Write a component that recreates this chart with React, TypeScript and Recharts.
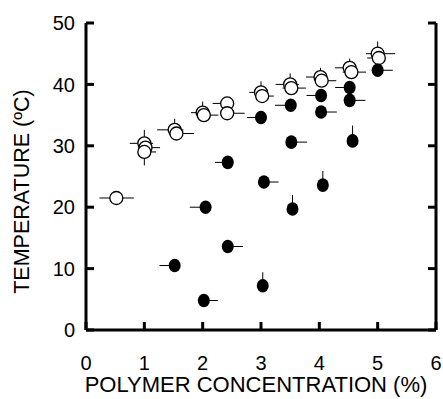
import { ScatterChart, Scatter, XAxis, YAxis, ErrorBar } from 'recharts'

// open circles
const openX = [0.52, 1.0, 1.02, 1.0, 1.52, 1.55, 2.0, 2.02, 2.42, 2.42, 3.0, 3.02, 3.5, 3.52, 4.02, 4.04, 4.52, 4.55, 5.0, 5.02]
const openY = [21.5, 30.4, 29.7, 29.0, 32.6, 32.0, 35.4, 35.0, 36.9, 35.3, 38.7, 38.1, 40.0, 39.4, 41.2, 40.6, 42.7, 42.0, 45.0, 44.3]
const openXLo = [0.29, 0.25, 0.1, 0, 0.3, 0, 0.2, 0, 0.25, 0, 0.2, 0, 0.25, 0.15, 0.25, 0, 0.25, 0.15, 0.2, 0.2]
const openXHi = [0.3, 0.15, 0.25, 0.2, 0.15, 0.3, 0, 0.25, 0, 0.3, 0.1, 0.2, 0.15, 0.25, 0, 0.25, 0.1, 0.25, 0.3, 0.1]
const openYLo = [0, 0, 0, 2.2, 0, 0, 0, 0, 0, 0, 0, 0, 0, 0, 0, 0.5, 0, 0, 0, 0.5]
const openYHi = [0, 2.2, 0, 0, 1.8, 0, 1.8, 0, 1, 0, 1.8, 0, 1.8, 0, 1.5, 0, 1.5, 0, 2, 0]

// filled circles
const filledX = [1.52, 2.02, 2.05, 2.43, 2.43, 3.03, 3.05, 3.0, 3.54, 3.52, 3.51, 4.06, 4.03, 4.03, 4.57, 4.52, 4.52, 5.0]
const filledY = [10.5, 4.8, 20.0, 13.6, 27.3, 7.2, 24.1, 34.6, 19.7, 30.6, 36.6, 23.6, 35.5, 38.2, 30.8, 37.4, 39.5, 42.3]
const filledXLo = [0.26, 0, 0.27, 0, 0.22, 0, 0, 0.24, 0, 0, 0.27, 0, 0, 0.25, 0, 0, 0.25, 0.1]
const filledXHi = [0, 0.24, 0, 0.26, 0, 0, 0.25, 0, 0, 0.27, 0, 0, 0.27, 0, 0, 0.27, 0, 0.26]
const filledYHi = [0, 0, 0, 0, 0, 2.2, 0, 0, 2.3, 0, 0, 2.3, 0, 0, 2.5, 0, 0, 0]

const xTicks = [0, 1, 2, 3, 4, 5, 6]
const yTicks = [0, 10, 20, 30, 40, 50]

const openData = openX.map((x, i) => ({
  x,
  y: openY[i],
  ex: [openXLo[i], openXHi[i]],
  ey: [openYLo[i], openYHi[i]],
}))

const filledData = filledX.map((x, i) => ({
  x,
  y: filledY[i],
  ex: [filledXLo[i], filledXHi[i]],
  ey: [0, filledYHi[i]],
}))

const font = '"Liberation Sans", Arial, sans-serif'
const axisStroke = { stroke: '#000', strokeWidth: 3 }
const TICK = 8
const XM = 26 // gap from bottom axis to label top
const YM = 11 // gap from left axis to label end

// inward ticks drawn together with the labels
const BottomTick = (props: any) => {
  const { x, y, payload } = props
  const axisY = y - XM
  return (
    <g>
      <line x1={x} x2={x} y1={axisY} y2={axisY - TICK} stroke="#000" strokeWidth={3} />
      <text x={x} y={y} dy="0.71em" textAnchor="middle" fontSize={20} fontFamily={font} fill="#000">
        {payload.value}
      </text>
    </g>
  )
}

const LeftTick = (props: any) => {
  const { x, y, payload } = props
  const axisX = x + YM
  return (
    <g>
      <line x1={axisX} x2={axisX + TICK} y1={y} y2={y} stroke="#000" strokeWidth={3} />
      <text x={x} y={y} dy="0.36em" textAnchor="end" fontSize={20} fontFamily={font} fill="#000">
        {payload.value}
      </text>
    </g>
  )
}

const TopTick = (props: any) => (
  <line x1={props.x} x2={props.x} y1={props.y} y2={props.y + TICK} stroke="#000" strokeWidth={3} />
)

const RightTick = (props: any) => (
  <line x1={props.x} x2={props.x - TICK} y1={props.y} y2={props.y} stroke="#000" strokeWidth={3} />
)

const OpenDot = (props: any) => (
  <circle cx={props.cx} cy={props.cy} r={6.5} fill="#fff" stroke="#000" strokeWidth={1.3} />
)

const FilledDot = (props: any) => (
  <ellipse cx={props.cx} cy={props.cy} rx={6} ry={6.8} fill="#000" />
)

const XTitle = (props: any) => {
  const vb = props.viewBox
  return (
    <text x={vb.x + vb.width / 2 - 5} y={vb.y + 62} textAnchor="middle" fontSize={22} fontFamily={font} fill="#000">
      POLYMER CONCENTRATION (%)
    </text>
  )
}

const YTitle = (props: any) => {
  const vb = props.viewBox
  const cx = 22
  const cy = vb.y + vb.height / 2 + 15
  return (
    <text x={cx} y={cy} transform={`rotate(-90 ${cx} ${cy})`} textAnchor="middle" dominantBaseline="central" fontSize={21.5} fontFamily={font} fill="#000">
      TEMPERATURE (ºC)
    </text>
  )
}

export default function App() {
  return (
    <div style={{ position: 'absolute', left: 0, top: 0, width: 443, height: 399, background: '#fff' }}>
      <ScatterChart width={443} height={399} margin={{ top: 23, right: 6, bottom: 0, left: 0 }}>
        <XAxis
          xAxisId="b"
          type="number"
          dataKey="x"
          domain={[0, 6]}
          ticks={xTicks}
          height={69}
          axisLine={axisStroke}
          tickLine={false}
          tickSize={0}
          tickMargin={XM}
          tick={<BottomTick />}
          allowDataOverflow
          label={<XTitle />}
        />
        <XAxis
          xAxisId="t"
          orientation="top"
          type="number"
          domain={[0, 6]}
          ticks={xTicks}
          height={0}
          axisLine={axisStroke}
          tickLine={false}
          tickSize={0}
          tickMargin={0}
          tick={<TopTick />}
          allowDataOverflow
        />
        <YAxis
          yAxisId="l"
          type="number"
          dataKey="y"
          domain={[0, 50]}
          ticks={yTicks}
          width={86}
          axisLine={axisStroke}
          tickLine={false}
          tickSize={0}
          tickMargin={YM}
          tick={<LeftTick />}
          allowDataOverflow
          label={<YTitle />}
        />
        <YAxis
          yAxisId="r"
          orientation="right"
          type="number"
          domain={[0, 50]}
          ticks={yTicks}
          width={1}
          axisLine={axisStroke}
          tickLine={false}
          tickSize={0}
          tickMargin={0}
          tick={<RightTick />}
          allowDataOverflow
        />
        <Scatter data={openData} xAxisId="b" yAxisId="l" shape={OpenDot} isAnimationActive={false}>
          <ErrorBar dataKey="ex" direction="x" width={0} stroke="#000" strokeWidth={1} />
          <ErrorBar dataKey="ey" direction="y" width={0} stroke="#000" strokeWidth={1} />
        </Scatter>
        <Scatter data={filledData} xAxisId="b" yAxisId="l" shape={FilledDot} isAnimationActive={false}>
          <ErrorBar dataKey="ex" direction="x" width={0} stroke="#000" strokeWidth={1} />
          <ErrorBar dataKey="ey" direction="y" width={0} stroke="#000" strokeWidth={1} />
        </Scatter>
      </ScatterChart>
    </div>
  )
}
